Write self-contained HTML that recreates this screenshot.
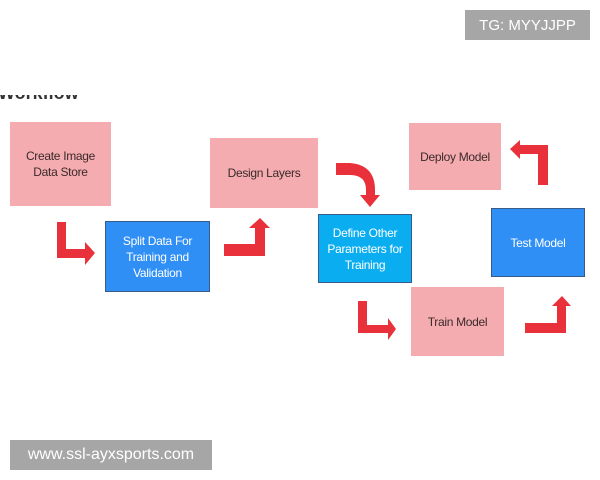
<!DOCTYPE html>
<html><head><meta charset="utf-8"><style>
body{margin:0;width:600px;height:480px;background:#fff;position:relative;overflow:hidden;font-family:"Liberation Sans",sans-serif}
.b{position:absolute;display:flex;align-items:center;justify-content:center;text-align:center;font-size:12px;line-height:16px;letter-spacing:-0.3px;box-sizing:border-box}
.p{background:#f4acb0;color:#3a2a2a}
.bl{background:#2f8ff5;color:#fff;border:1px solid #3a5a8a}
.cy{background:#0aaef0;color:#fff;border:1px solid #3a5a8a}
.wm{position:absolute;background:#a6a6a6;color:#fff;font-size:15px;display:flex;align-items:center;justify-content:center}
</style></head><body>
<div style="position:absolute;left:0;top:95px;width:120px;height:10px;overflow:hidden"><div style="position:absolute;top:-12px;left:-2px;font-size:18px;font-weight:bold;color:#333">Workflow</div></div>
<div class="wm" style="left:465px;top:10px;width:125px;height:30px">TG: MYYJJPP</div>
<div class="wm" style="left:10px;top:440px;width:202px;height:30px;font-size:16px">www.ssl-ayxsports.com</div>

<div class="b p" style="left:10px;top:122px;width:101px;height:84px">Create Image<br>Data Store</div>
<div class="b p" style="left:210px;top:138px;width:108px;height:70px">Design Layers</div>
<div class="b bl" style="left:105px;top:221px;width:105px;height:71px">Split Data For<br>Training and<br>Validation</div>
<div class="b cy" style="left:318px;top:214px;width:94px;height:69px">Define Other<br>Parameters for<br>Training</div>
<div class="b p" style="left:409px;top:123px;width:92px;height:67px">Deploy Model</div>
<div class="b bl" style="left:491px;top:208px;width:94px;height:69px">Test Model</div>
<div class="b p" style="left:411px;top:287px;width:93px;height:69px">Train Model</div>

<svg width="600" height="480" style="position:absolute;left:0;top:0" fill="#e8313a">
<polygon points="57,222 66,222 66,249 85,249 85,242 95,253 85,265 85,258 57,258"/>
<polygon points="224,244 255,244 255,228 249,228 260,218 270,228 265,228 265,256 224,256"/>
<path d="M336,163 L350,163 Q375,165 375,190 L375,195 L380,195 L370,207 L360,195 L366,195 L366,190 Q366,175 350,175 L336,175 Z"/>
<polygon points="358,301 367,301 367,325 388,325 388,318 396,329 388,340 388,333 358,333"/>
<polygon points="525,323 557,323 557,306 552,306 562,296 571,306 566,306 566,333 525,333"/>
<polygon points="548,185 538,185 538,154 520,154 520,159 510,149 520,140 520,145 548,145"/>
</svg>
</body></html>
